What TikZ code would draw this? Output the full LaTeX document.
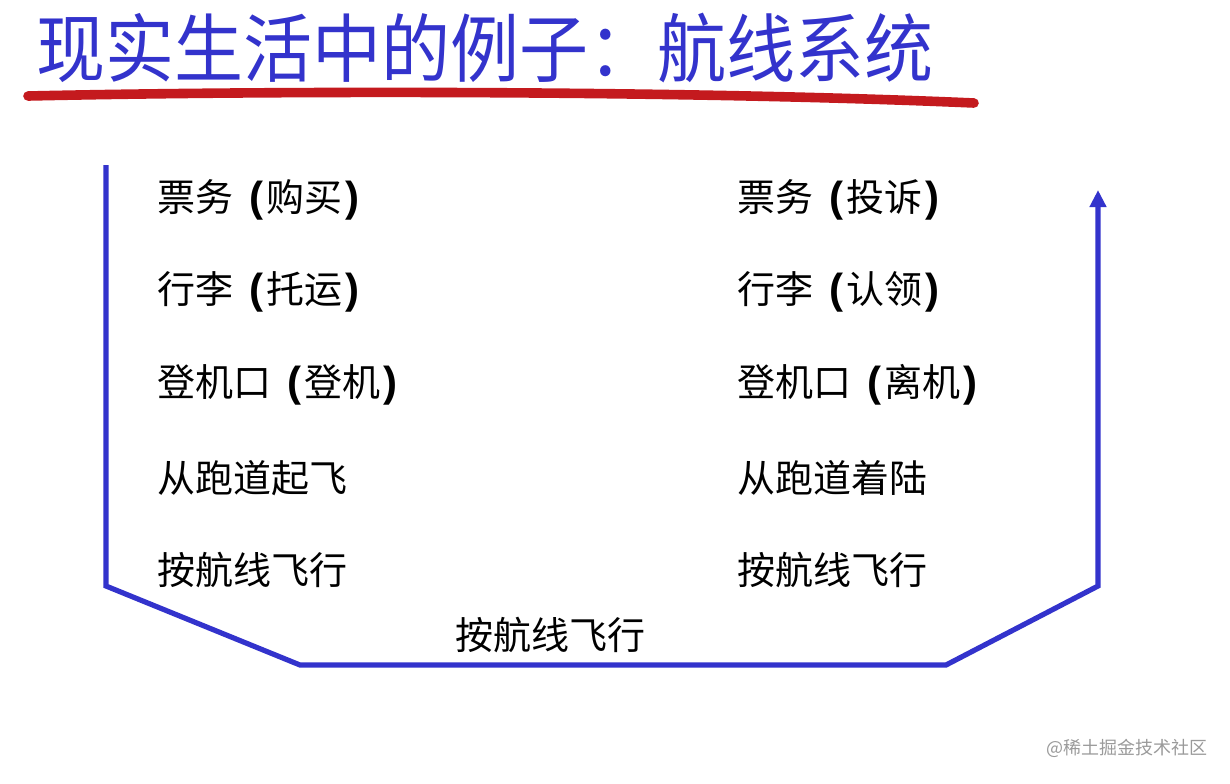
\documentclass[tikz,border=0pt]{standalone}
\usepackage{fontspec}
\setmainfont{Noto Sans CJK SC}
\newfontfamily\latinfont{Liberation Sans}
\usetikzlibrary{arrows.meta, positioning}
\definecolor{route}{HTML}{3333CC}
\definecolor{inkred}{HTML}{C41A1E}
\definecolor{mark}{HTML}{9A9A9A}
\newcommand{\pb}[1]{{\latinfont\bfseries\fontsize{21pt}{22pt}\selectfont#1}}
\newcommand{\paren}[1]{\hspace{4pt}\pb{(}\hspace{1.5pt}#1\hspace{1.5pt}\pb{)}}
\tikzset{
  item/.style={anchor=west, inner sep=0pt, font=\fontsize{19pt}{22pt}\selectfont},
  flight/.style={draw=route, line width=2.6pt, line join=miter},
}

\begin{document}
\begin{tikzpicture}[x=0.5pt, y=-0.5pt,
  titlenode/.style={anchor=west, inner sep=0pt, text=route,
                    font=\fontsize{34.5pt}{40pt}\selectfont},
]
  \useasboundingbox (0,0) rectangle (1230,783);

  %% Title with red underline
  \node[titlenode, yscale=1.08] (title) at (36,48) {现实生活中的例子：航线系统};
  \coordinate (ulA) at (28,96);
  \coordinate (ulB) at (974,103);
  \draw[inkred, line width=4.8pt, line cap=round]
    (ulA) .. controls (300,90) and (700,91) .. (ulB);

  %% Left column: departure side
  \node[item] (buy)     at (157,200) {票务 \paren{购买}};
  \node[item] (check)   at (157,292) {行李 \paren{托运}};
  \node[item] (board)   at (157,385) {登机口 \paren{登机}};
  \node[item] (takeoff) at (157,478) {从跑道起飞};
  \node[item] (flyA)    at (157,570) {按航线飞行};

  %% Right column: arrival side
  \node[item] (claimT)  at (737,200) {票务 \paren{投诉}};
  \node[item] (claimB)  at (737,292) {行李 \paren{认领}};
  \node[item] (leave)   at (737,385) {登机口 \paren{离机}};
  \node[item] (land)    at (737,478) {从跑道着陆};
  \node[item] (flyB)    at (737,570) {按航线飞行};

  %% Bottom label
  \node[item] (flyC)    at (455,635) {按航线飞行};

  %% Route path
  \coordinate (start) at (106,165);
  \coordinate (dl)    at (106,586);
  \coordinate (bl)    at (300,665);
  \coordinate (br)    at (946,665);
  \coordinate (dr)    at (1098,586);
  \coordinate (stop)  at (1098,190);
  \draw[flight, -{Triangle[length=8.5pt, width=8pt]}]
    (start) -- (dl) -- (bl) -- (br) -- (dr) -- (stop);

  %% Watermark
  \node[anchor=east, inner sep=0pt, text=mark,
        font=\fontsize{9pt}{10pt}\selectfont] (wm) at (1208,748) {@稀土掘金技术社区};
\end{tikzpicture}
\end{document}
